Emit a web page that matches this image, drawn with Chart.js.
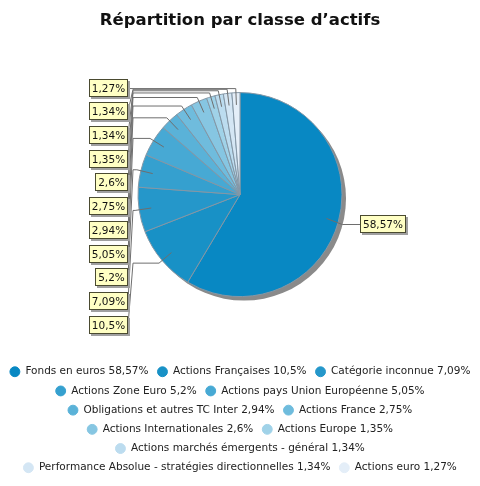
<!DOCTYPE html>
<html>
<head>
<meta charset="utf-8">
<script src="https://cdn.jsdelivr.net/npm/chart.js@4/dist/chart.umd.min.js"></script>
<style>
  html, body { margin: 0; padding: 0; background: #fff; }
  #wrap { width: 480px; height: 486px; }
</style>
</head>
<body>
<div id="wrap"><canvas id="pie-chart"></canvas></div>
<script>
const categories = [
  "Fonds en euros",
  "Actions Françaises",
  "Catégorie inconnue",
  "Actions Zone Euro",
  "Actions pays Union Européenne",
  "Obligations et autres TC Inter",
  "Actions France",
  "Actions Internationales",
  "Actions Europe",
  "Actions marchés émergents - général",
  "Performance Absolue - stratégies directionnelles",
  "Actions euro"
];
const values = [58.57, 10.5, 7.09, 5.2, 5.05, 2.94, 2.75, 2.6, 1.35, 1.34, 1.34, 1.27];

const palette = [
  '#0888c3', '#1891c6', '#2597ca', '#35a0cf', '#47a9d4', '#5ab2d8',
  '#6fbcdd', '#86c6e2', '#a0d2e8', '#bcdcef', '#d4e6f4', '#e4eef8'
];

// 58.57 -> "58,57"
function fmt(v) { return String(v).replace('.', ','); }

// ombre + étiquettes jaunes avec traits de rappel
const sliceLabels = {
  id: 'sliceLabels',
  beforeDatasetsDraw(chart) {
    const arc = chart.getDatasetMeta(0).data[0];
    const ctx = chart.ctx;
    ctx.save();
    ctx.fillStyle = '#8a8a8a';
    ctx.beginPath();
    ctx.arc(arc.x + 4, arc.y + 4, arc.outerRadius, 0, Math.PI * 2);
    ctx.fill();
    ctx.restore();
  },
  afterDatasetsDraw(chart) {
    const meta = chart.getDatasetMeta(0);
    const ctx = chart.ctx;
    const n = meta.data.length;
    ctx.save();
    ctx.font = '10.5px "DejaVu Sans"';
    ctx.textBaseline = 'middle';
    meta.data.forEach((arc, i) => {
      const mid = (arc.startAngle + arc.endAngle) / 2;
      const r = arc.outerRadius, cx = arc.x, cy = arc.y;
      const cos = Math.cos(mid), sin = Math.sin(mid);
      const ax = cx + cos * r * 0.88, ay = cy + sin * r * 0.88;
      const bx = cx + cos * r * 1.04, by = cy + sin * r * 1.04;
      const text = fmt(values[i]) + '%';
      const w = Math.round(ctx.measureText(text).width) + 6, h = 18;
      let lx, ly;
      ctx.strokeStyle = '#6e6e6e';
      ctx.lineWidth = 1;
      ctx.beginPath();
      if (cos > 0) {
        lx = Math.round(cx + r + 18);
        ly = Math.round(by + 1);
        ctx.moveTo(ax, ay);
        ctx.lineTo(bx, ly + 0.5);
        ctx.lineTo(lx, ly + 0.5);
      } else {
        const k = n - 1 - i;
        ly = Math.round(cy - r - 5 + k * 23.7);
        lx = Math.round(cx - 112 - w);
        const cxLink = cx - 107;
        ctx.moveTo(ax, ay);
        ctx.lineTo(bx, by);
        ctx.lineTo(cxLink, by);
        ctx.lineTo(lx + w, ly + 0.5);
      }
      ctx.stroke();
      // boîte
      ctx.fillStyle = '#a0a0a0';
      ctx.fillRect(lx + 2, ly - h / 2 + 2, w, h);
      ctx.fillStyle = '#ffffc4';
      ctx.fillRect(lx, ly - h / 2, w, h);
      ctx.strokeStyle = '#4a4a30';
      ctx.strokeRect(lx + 0.5, Math.round(ly - h / 2) + 0.5, w - 1, h - 1);
      ctx.fillStyle = '#111';
      ctx.textAlign = 'center';
      ctx.fillText(text, lx + w / 2, ly + 1);
    });
    ctx.restore();
  }
};

new Chart(document.getElementById('pie-chart'), {
  type: 'pie',
  data: {
    labels: categories,
    datasets: [{
      data: values,
      backgroundColor: palette,
      borderColor: '#8497a6',
      borderWidth: 1,
      radius: 102
    }]
  },
  options: {
    responsive: true,
    maintainAspectRatio: false,
    animation: false,
    layout: { padding: { bottom: 3 } },
    plugins: {
      tooltip: { enabled: false },
      title: {
        display: true,
        text: "Répartition par classe d’actifs",
        color: '#111',
        font: { family: 'DejaVu Sans', size: 16.5, weight: 'bold' },
        padding: { top: 11, bottom: 28 }
      },
      legend: {
        position: 'bottom',
        title: { display: true, text: '', padding: 6.5 },
        labels: {
          color: '#222',
          font: { family: 'DejaVu Sans', size: 10.5 },
          usePointStyle: true,
          pointStyle: 'circle',
          boxHeight: 7,
          padding: 8.7,
          generateLabels(chart) {
            const items = Chart.overrides.pie.plugins.legend.labels.generateLabels(chart);
            items.forEach((it, i) => {
              it.text = categories[i] + ' ' + fmt(values[i]) + '%';
              it.strokeStyle = palette[i];
            });
            return items;
          }
        }
      }
    }
  },
  plugins: [sliceLabels]
});
</script>
</body>
</html>
